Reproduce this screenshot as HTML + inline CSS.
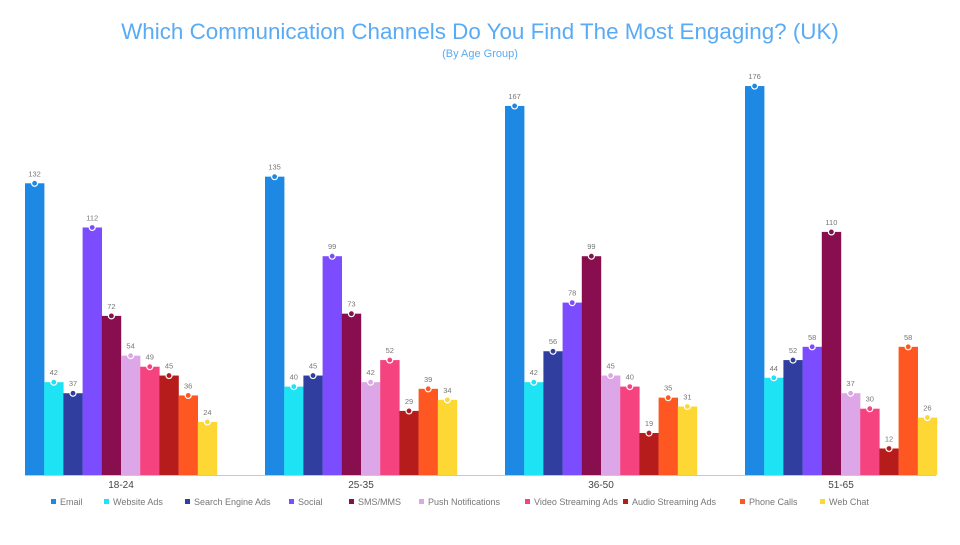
<!DOCTYPE html>
<html><head><meta charset="utf-8"><style>
body{margin:0;background:#fff;}
text{font-family:"Liberation Sans",sans-serif;}
</style></head><body>
<svg width="960" height="540" xmlns="http://www.w3.org/2000/svg" id="s">
<text x="480" y="39" text-anchor="middle" font-size="22.4" fill="#5aabf5">Which Communication Channels Do You Find The Most Engaging? (UK)</text>
<text x="480" y="57" text-anchor="middle" font-size="11" fill="#5aabf5">(By Age Group)</text>
<line x1="25" y1="475.5" x2="936" y2="475.5" stroke="#c8c8c8" stroke-width="1"/>
<g id="bars"></g>
<g font-size="10" fill="#444">
<text x="121" y="488" text-anchor="middle">18-24</text>
<text x="361" y="488" text-anchor="middle">25-35</text>
<text x="601" y="488" text-anchor="middle">36-50</text>
<text x="841" y="488" text-anchor="middle">51-65</text>
</g>
<g id="leg" font-size="9" fill="#777"></g>
</svg>
<script>
var cols=["#1e88e5","#1ee3f5","#303f9f","#7c4dff","#880e4f","#dda6e6","#f5437f","#b71c1c","#ff5722","#fdd835"];
var names=["Email","Website Ads","Search Engine Ads","Social","SMS/MMS","Push Notifications","Video Streaming Ads","Audio Streaming Ads","Phone Calls","Web Chat"];
var lx=[60,113,194,298,358,428,534,632,749,829];
var d=[[132,42,37,112,72,54,49,45,36,24],[135,40,45,99,73,42,52,29,39,34],[167,42,56,78,99,45,40,19,35,31],[176,44,52,58,110,37,30,12,58,26]];
var g=document.getElementById("bars"),s="";
for(var i=0;i<4;i++)for(var j=0;j<10;j++){var v=d[i][j],x=25+i*240+j*19.2,h=v*2.21,y=475-h;
s+='<rect x="'+x+'" y="'+y+'" width="19.4" height="'+h+'" fill="'+cols[j]+'"/>';
s+='<circle cx="'+(x+9.6)+'" cy="'+y+'" r="3" fill="'+cols[j]+'" stroke="#fff" stroke-width="1.2"/>';
s+='<text x="'+(x+9.6)+'" y="'+(y-7)+'" text-anchor="middle" font-size="7.5" fill="#777">'+v+'</text>';}
g.innerHTML=s;s="";
for(var j=0;j<10;j++){s+='<rect x="'+(lx[j]-9)+'" y="499" width="5" height="5" fill="'+cols[j]+'"/><text x="'+lx[j]+'" y="505">'+names[j]+'</text>';}
document.getElementById("leg").innerHTML=s;
</script>
</body></html>
